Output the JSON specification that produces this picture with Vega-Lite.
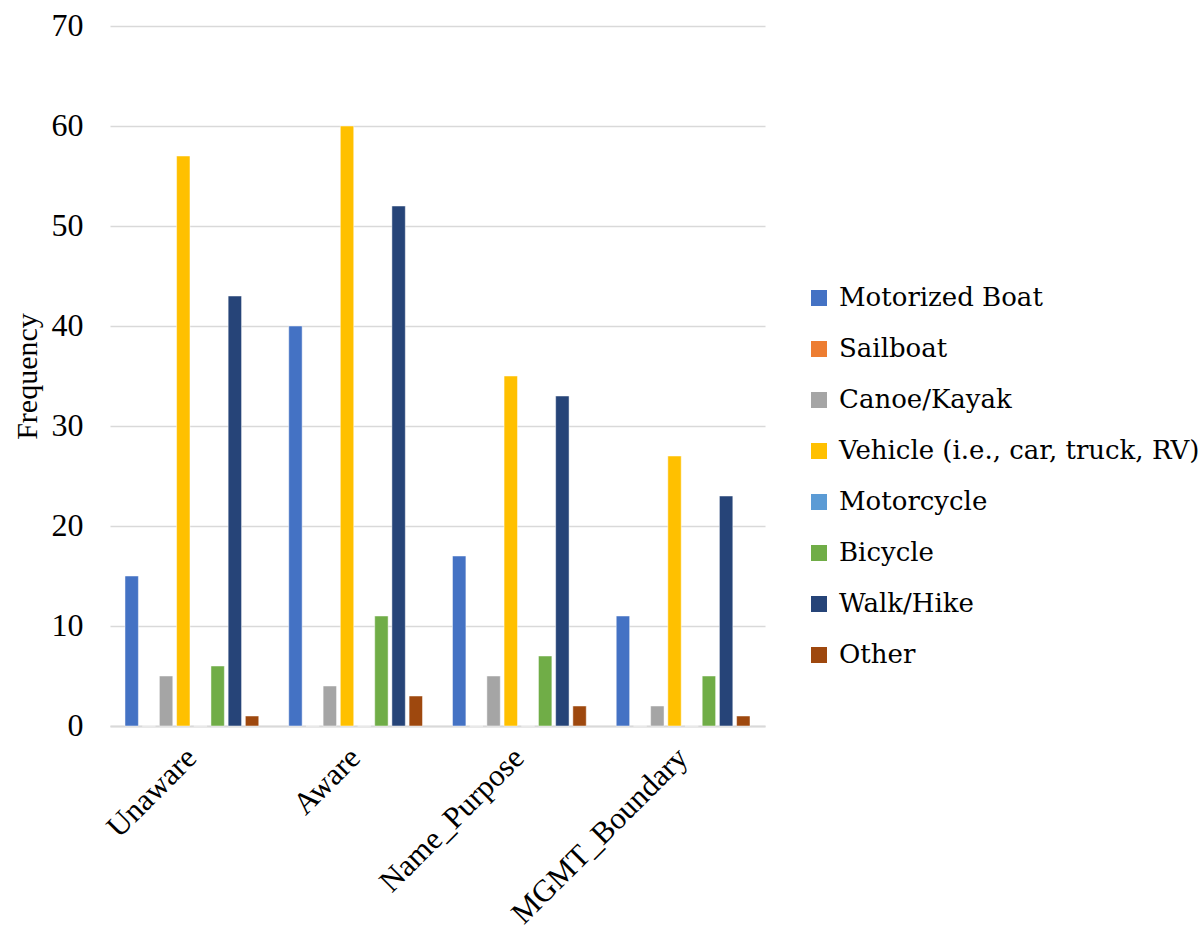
{
  "$schema": "https://vega.github.io/schema/vega-lite/v6.json",
  "width": 655,
  "height": 700,
  "autosize": "none",
  "padding": {"left": 110, "top": 26, "right": 434, "bottom": 210},
  "background": "white",
  "config": {
    "font": "Liberation Serif",
    "view": {"stroke": null},
    "axis": {"labelColor": "#000000", "titleColor": "#000000"}
  },
  "data": {
    "values": [
      {"group": "Unaware", "mode": "Motorized Boat", "count": 15},
      {"group": "Unaware", "mode": "Sailboat", "count": 0},
      {"group": "Unaware", "mode": "Canoe/Kayak", "count": 5},
      {"group": "Unaware", "mode": "Vehicle (i.e., car, truck, RV)", "count": 57},
      {"group": "Unaware", "mode": "Motorcycle", "count": 0},
      {"group": "Unaware", "mode": "Bicycle", "count": 6},
      {"group": "Unaware", "mode": "Walk/Hike", "count": 43},
      {"group": "Unaware", "mode": "Other", "count": 1},
      {"group": "Aware", "mode": "Motorized Boat", "count": 40},
      {"group": "Aware", "mode": "Sailboat", "count": 0},
      {"group": "Aware", "mode": "Canoe/Kayak", "count": 4},
      {"group": "Aware", "mode": "Vehicle (i.e., car, truck, RV)", "count": 60},
      {"group": "Aware", "mode": "Motorcycle", "count": 0},
      {"group": "Aware", "mode": "Bicycle", "count": 11},
      {"group": "Aware", "mode": "Walk/Hike", "count": 52},
      {"group": "Aware", "mode": "Other", "count": 3},
      {"group": "Name_Purpose", "mode": "Motorized Boat", "count": 17},
      {"group": "Name_Purpose", "mode": "Sailboat", "count": 0},
      {"group": "Name_Purpose", "mode": "Canoe/Kayak", "count": 5},
      {"group": "Name_Purpose", "mode": "Vehicle (i.e., car, truck, RV)", "count": 35},
      {"group": "Name_Purpose", "mode": "Motorcycle", "count": 0},
      {"group": "Name_Purpose", "mode": "Bicycle", "count": 7},
      {"group": "Name_Purpose", "mode": "Walk/Hike", "count": 33},
      {"group": "Name_Purpose", "mode": "Other", "count": 2},
      {"group": "MGMT_Boundary", "mode": "Motorized Boat", "count": 11},
      {"group": "MGMT_Boundary", "mode": "Sailboat", "count": 0},
      {"group": "MGMT_Boundary", "mode": "Canoe/Kayak", "count": 2},
      {"group": "MGMT_Boundary", "mode": "Vehicle (i.e., car, truck, RV)", "count": 27},
      {"group": "MGMT_Boundary", "mode": "Motorcycle", "count": 0},
      {"group": "MGMT_Boundary", "mode": "Bicycle", "count": 5},
      {"group": "MGMT_Boundary", "mode": "Walk/Hike", "count": 23},
      {"group": "MGMT_Boundary", "mode": "Other", "count": 1}
    ]
  },
  "mark": {"type": "bar", "stroke": "#ffffff", "strokeWidth": 0.8, "strokeOpacity": 0.6},
  "encoding": {
    "x": {
      "field": "group",
      "type": "nominal",
      "sort": ["Unaware", "Aware", "Name_Purpose", "MGMT_Boundary"],
      "scale": {"paddingInner": 0.16, "paddingOuter": 0.08},
      "axis": {
        "title": null,
        "labelFont": "Liberation Serif",
        "labelAngle": -45,
        "labelAlign": "right",
        "labelBaseline": "middle",
        "labelFontSize": 31,
        "labelPadding": 27,
        "ticks": false,
        "domain": true,
        "domainColor": "#d9d9d9",
        "domainWidth": 2,
        "labelLimit": 400
      }
    },
    "xOffset": {
      "field": "mode",
      "type": "nominal",
      "sort": ["Motorized Boat", "Sailboat", "Canoe/Kayak", "Vehicle (i.e., car, truck, RV)", "Motorcycle", "Bicycle", "Walk/Hike", "Other"],
      "scale": {"paddingInner": 0.22, "paddingOuter": 0.11}
    },
    "y": {
      "field": "count",
      "type": "quantitative",
      "scale": {"domain": [0, 70], "nice": false},
      "axis": {
        "title": "Frequency",
        "titleFont": "Liberation Serif",
        "titleFontSize": 30,
        "titleFontWeight": "normal",
        "titlePadding": 8,
        "values": [0, 10, 20, 30, 40, 50, 60, 70],
        "labelFont": "Liberation Serif",
        "labelFontSize": 32,
        "labelPadding": 27,
        "labelAngle": 0.01,
        "ticks": false,
        "domain": false,
        "gridColor": "#d9d9d9",
        "gridWidth": 1.5
      }
    },
    "color": {
      "field": "mode",
      "type": "nominal",
      "sort": ["Motorized Boat", "Sailboat", "Canoe/Kayak", "Vehicle (i.e., car, truck, RV)", "Motorcycle", "Bicycle", "Walk/Hike", "Other"],
      "scale": {
        "domain": ["Motorized Boat", "Sailboat", "Canoe/Kayak", "Vehicle (i.e., car, truck, RV)", "Motorcycle", "Bicycle", "Walk/Hike", "Other"],
        "range": ["#4472c4", "#ed7d31", "#a5a5a5", "#ffc000", "#5b9bd5", "#70ad47", "#264478", "#9e480e"]
      },
      "legend": {
        "title": null,
        "orient": "none",
        "legendX": 696,
        "legendY": 259,
        "symbolType": "square",
        "symbolSize": 256,
        "symbolStrokeWidth": 0,
        "labelFont": "DejaVu Serif",
        "labelFontSize": 26,
        "labelOffset": 7,
        "rowPadding": 25,
        "labelLimit": 420
      }
    }
  }
}
